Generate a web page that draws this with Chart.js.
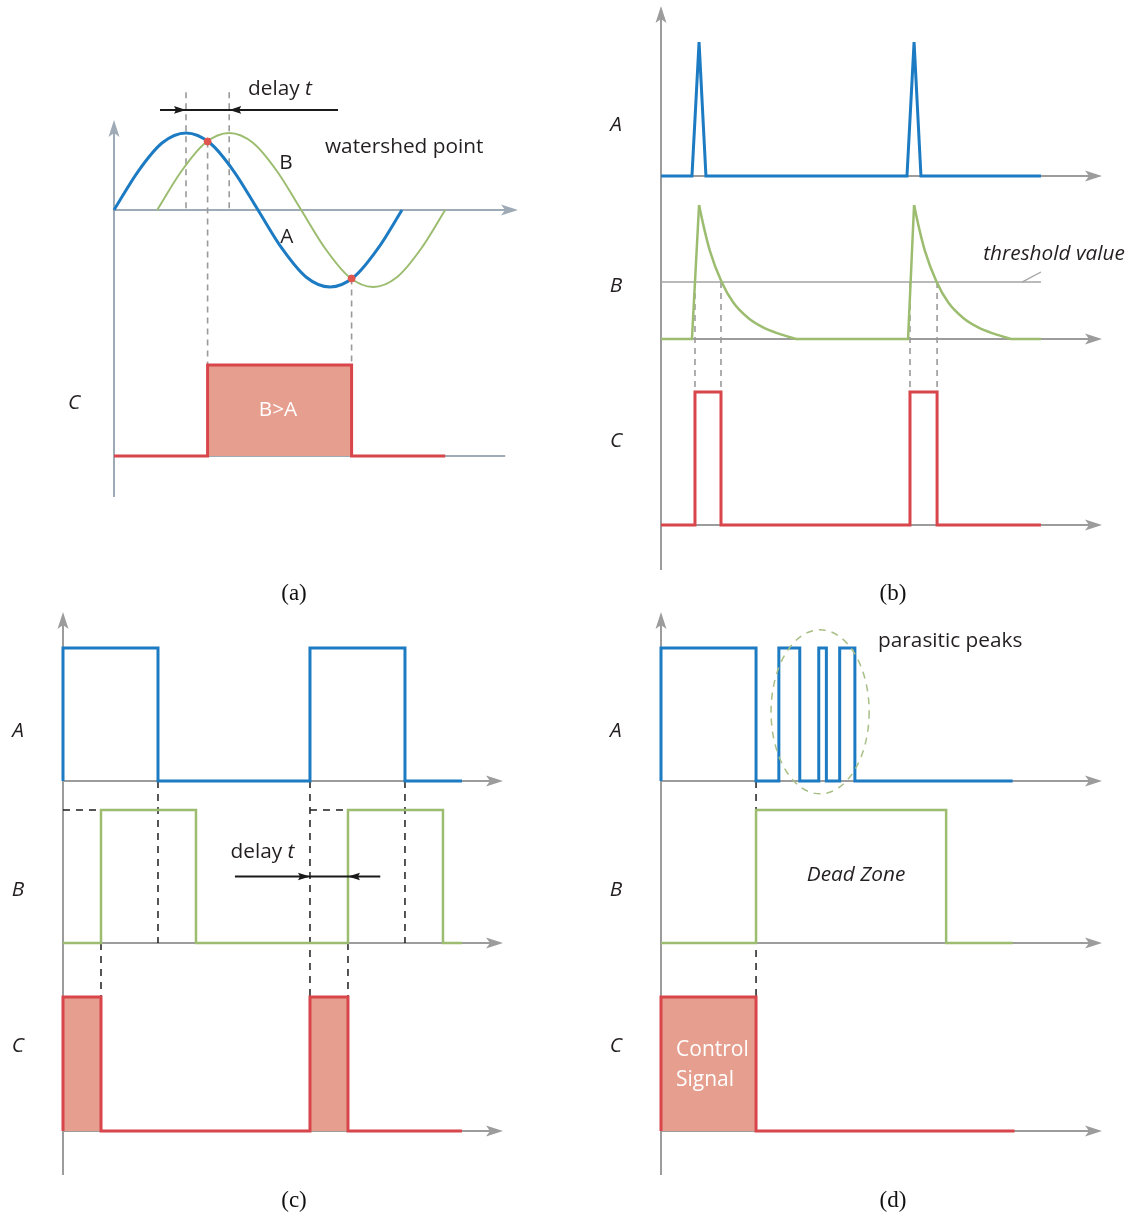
<!DOCTYPE html>
<html><head><meta charset="utf-8">
<script src="https://cdn.jsdelivr.net/npm/chart.js@4/dist/chart.umd.min.js"></script>
<style>
html,body{margin:0;padding:0;background:#fff;}
#wrap{position:relative;width:1130px;height:1219px;overflow:hidden;}
#wrap canvas{position:absolute;left:0;top:0;}
.cap{position:absolute;font-family:"Liberation Serif","Times New Roman",serif;font-size:23px;color:#111;transform:translate(-50%,-50%);white-space:nowrap;}
</style></head><body>
<div id="wrap">
<canvas id="pa" width="1130" height="1219"></canvas>
<canvas id="pb" width="1130" height="1219"></canvas>
<canvas id="pc" width="1130" height="1219"></canvas>
<canvas id="pd" width="1130" height="1219"></canvas>
<div class="cap" style="left:294px;top:593px">(a)</div>
<div class="cap" style="left:893px;top:593px">(b)</div>
<div class="cap" style="left:294px;top:1200px">(c)</div>
<div class="cap" style="left:893px;top:1200px">(d)</div>
</div>
<script>
// ================= DATA =================
// (a) two sine signals (phase in degrees) and comparator output
const aPhase = [0,30,60,90,120,150,180,210,240,270,300,330,360];
const aSignal = [0,0.5,0.87,1,0.87,0.5,0,-0.5,-0.87,-1,-0.87,-0.5,0];
const bPhase = [54,84,114,144,174,204,234,264,294,324,354,384,414];
const bSignal = [0,0.5,0.87,1,0.87,0.5,0,-0.5,-0.87,-1,-0.87,-0.5,0];
const watershedPhase = [117,297];
const watershedValue = [0.89,-0.89];
const cmpPhase = [0,117,117,297,297,414];
const cmpLevel = [0,0,1,1,0,0];
const peakPhase = [90,144];

// (b) spikes, decaying response, threshold gate
const spikeTime = [0,14.4,17.7,20.9,114.4,117.7,120.9,176.7];
const spikeLevel = [0,0,1,0,0,1,0,0];
const riseTime = [0,14.4,17.7,17.7,62.7,114.9,117.7,117.7,162.7,176.7];
const riseLevel = [0,0,1,null,0,0,1,null,0,0];
const decayTime = [17.7,19.7,22.7,28.2,33.7,40.7,47.7,54.7,62.7,62.7,117.7,119.7,122.7,128.2,133.7,140.7,147.7,154.7,162.7];
const decayLevel = [1,0.85,0.66,0.425,0.27,0.155,0.085,0.04,0,null,1,0.85,0.66,0.425,0.27,0.155,0.085,0.04,0];
const thresholdLevel = 0.425;
const gateTime = [0,15.8,15.8,27.9,27.9,115.8,115.8,128.4,128.4,176.7];
const gateLevel = [0,0,1,1,0,0,1,1,0,0];
const gateEdges = [15.8,27.9,115.8,128.4];

// (c) pulse, delayed pulse, output
const cTimeA = [0,0,5,5,13,13,18,18,21];
const cLevelA = [0,1,1,0,0,1,1,0,0];
const cTimeB = [0,2,2,7,7,15,15,20,20,21];
const cLevelB = [0,0,1,1,0,0,1,1,0,0];
const cTimeC = [0,0,2,2,13,13,15,15,21];
const cLevelC = [0,1,1,0,0,1,1,0,0];

// (d) pulse with parasitic peaks, dead zone, control signal
const dTimeA = [0,0,5,5,6.2,6.2,7.3,7.3,8.3,8.3,8.7,8.7,9.4,9.4,10.2,10.2,18.5];
const dLevelA = [0,1,1,0,0,1,1,0,0,1,1,0,0,1,1,0,0];
const dTimeB = [0,5,5,15,15,18.5];
const dLevelB = [0,0,1,1,0,0];
const dTimeC = [0,0,5,5,18.6];
const dLevelC = [0,1,1,0,0];

// ================= STYLE =================
const BLUE='#1c7bc2', GREEN='#9cbd70', RED='#d8454a', FILL='#e69f8e';
const AXIS='#9c9c9c', AXIS_A='#9eaab5', DASH='#9a9a9a', INK='#231f20';
const SANS='"Open Sans","Noto Sans",sans-serif';
const FS=20.8;
const F=(s,it)=>(it?'italic ':'')+s+'px '+SANS;

const pts=(xs,ys)=>xs.map((x,i)=>({x,y:ys[i]}));
function lineDS(xs,ys,axis,color,w,extra){
  return Object.assign({type:'line',data:pts(xs,ys),yAxisID:axis,borderColor:color,borderWidth:w,
    pointRadius:0,tension:0,fill:false,clip:false,spanGaps:false,borderJoinStyle:'miter',borderCapStyle:'butt'},extra||{});
}
const X=(ch,t)=>ch.scales.x.getPixelForValue(t);
const Y=(ch,ax,v)=>ch.scales[ax].getPixelForValue(v);
function seg(ctx,p,color,w,dash){ctx.beginPath();ctx.strokeStyle=color;ctx.lineWidth=w;ctx.setLineDash(dash||[]);
  p.forEach((q,i)=>i?ctx.lineTo(q[0],q[1]):ctx.moveTo(q[0],q[1]));ctx.stroke();ctx.setLineDash([]);}
function head(ctx,x,y,ang,len,half,notch,color){ctx.save();ctx.translate(x,y);ctx.rotate(ang);ctx.beginPath();
  ctx.moveTo(0,0);ctx.lineTo(-len,-half);ctx.lineTo(-len+notch,0);ctx.lineTo(-len,half);ctx.closePath();
  ctx.fillStyle=color;ctx.fill();ctx.restore();}
function txt(ctx,s,x,y,font,color,align){ctx.font=font;ctx.fillStyle=color;ctx.textAlign=align||'center';ctx.textBaseline='middle';ctx.fillText(s,x,y);}
function drawAxes(ch,ctx,color,rows){
  const a=ch.chartArea,x0=X(ch,0);
  seg(ctx,[[x0,a.bottom],[x0,a.top+12]],color,2);
  head(ctx,x0,a.top,-Math.PI/2,17,5.5,4,color);
  rows.forEach(r=>{
    const y=Y(ch,r.id,0), xe=r.end!=null?X(ch,r.end):a.right;
    seg(ctx,[[x0,y],[r.arrow?xe-12:xe,y]],color,2);
    if(r.arrow) head(ctx,xe,y,0,17,5.5,4,color);
  });
}
function delayArrow(ch,ctx,ax,v,t0,t1,tipR,tipL){
  const y=Y(ch,ax,v);
  seg(ctx,[[X(ch,t0),y],[X(ch,t1),y]],'#1a1a1a',2);
  head(ctx,X(ch,tipR),y,0,12,3.8,2,'#1a1a1a');
  head(ctx,X(ch,tipL),y,Math.PI,12,3.8,2,'#1a1a1a');
}
function delayLabel(ctx,cx,cy,size){
  ctx.font=F(size);const w1=ctx.measureText('delay ').width;ctx.font=F(size,true);const w2=ctx.measureText('t').width;
  const x=cx-(w1+w2)/2;
  txt(ctx,'delay ',x,cy,F(size),INK,'left');
  txt(ctx,'t',x+w1,cy,F(size,true),INK,'left');
}
function buildChart(id,o){
  const scales={x:{type:'linear',display:false,min:0,max:o.xMax}};
  o.rows.forEach((r,i)=>{scales[r.id]={type:'linear',display:false,position:'right',stack:'rows',
    stackWeight:r.h,weight:i+1,min:r.min,max:r.max};});
  return new Chart(document.getElementById(id),{
    type:'line',data:{datasets:o.datasets},
    options:{responsive:false,animation:false,devicePixelRatio:1,events:[],
      layout:{padding:o.pad},
      plugins:{legend:{display:false},tooltip:{enabled:false},title:{display:false}},
      scales},
    plugins:[{id:'under'+id,beforeDatasetsDraw(ch){const c=ch.ctx;c.save();o.under(ch,c);c.restore();}},
             {id:'over'+id,afterDatasetsDraw(ch){const c=ch.ctx;c.save();o.over(ch,c);c.restore();}}]
  });
}

// ================= PANEL (a) =================
buildChart('pa',{
  xMax:505, pad:{left:114,right:612,top:120,bottom:722},
  rows:[{id:'sig',h:180,min:-1.169,max:1.169},{id:'cmp',h:197,min:-0.4505,max:1.714}],
  datasets:[
    {type:'scatter',data:pts(watershedPhase,watershedValue),yAxisID:'sig',pointRadius:3.5,
     backgroundColor:'#e0554f',borderColor:'#e0554f',showLine:false,clip:false},
    lineDS(aPhase,aSignal,'sig',BLUE,3,{cubicInterpolationMode:'monotone'}),
    lineDS(bPhase,bSignal,'sig',GREEN,2,{cubicInterpolationMode:'monotone'}),
    lineDS(cmpPhase,cmpLevel,'cmp',RED,3,{fill:'origin',backgroundColor:FILL})
  ],
  under(ch,ctx){
    drawAxes(ch,ctx,AXIS_A,[{id:'sig',arrow:true},{id:'cmp',arrow:false,end:489}]);
    peakPhase.forEach(t=>seg(ctx,[[X(ch,t),Y(ch,'sig',1.53)],[X(ch,t),Y(ch,'sig',0)]],DASH,1.6,[6,5]));
    watershedPhase.forEach((t,i)=>seg(ctx,[[X(ch,t),Y(ch,'sig',watershedValue[i])],[X(ch,t),Y(ch,'cmp',1)]],DASH,1.6,[6,5]));
  },
  over(ch,ctx){
    delayArrow(ch,ctx,'sig',1.30,57.5,280,peakPhase[0],peakPhase[1]);
    delayLabel(ctx,X(ch,207.5),Y(ch,'sig',1.571),FS);
    txt(ctx,'watershed point',X(ch,263.75),Y(ch,'sig',0.818),F(FS),INK,'left');
    txt(ctx,'B',X(ch,215),Y(ch,'sig',0.61),F(FS),INK);
    txt(ctx,'A',X(ch,216),Y(ch,'sig',-0.35),F(FS),INK);
    txt(ctx,'C',X(ch,-50),Y(ch,'cmp',0.58),F(FS,true),INK);
    txt(ctx,'B>A',X(ch,205),Y(ch,'cmp',0.505),F(FS),'#ffffff');
  }
});

// ================= PANEL (b) =================
buildChart('pb',{
  xMax:205.1, pad:{left:661,right:28,top:6,bottom:649},
  rows:[{id:'a',h:184,min:-0.104,max:1.269},{id:'b',h:160,min:-0.082,max:1.112},{id:'c',h:220,min:-0.338,max:1.316}],
  datasets:[
    lineDS(spikeTime,spikeLevel,'a',BLUE,3),
    lineDS(riseTime,riseLevel,'b',GREEN,2.5),
    lineDS(decayTime,decayLevel,'b',GREEN,2.5,{cubicInterpolationMode:'monotone'}),
    lineDS(gateTime,gateLevel,'c',RED,3)
  ],
  under(ch,ctx){
    drawAxes(ch,ctx,AXIS,[{id:'a',arrow:true},{id:'b',arrow:true},{id:'c',arrow:true}]);
    seg(ctx,[[X(ch,0),Y(ch,'b',thresholdLevel)],[X(ch,176.7),Y(ch,'b',thresholdLevel)]],'#a3a3a3',1.6);
    seg(ctx,[[X(ch,167.9),Y(ch,'b',thresholdLevel)],[X(ch,176.7),Y(ch,'b',0.5)]],'#a3a3a3',1.3);
    gateEdges.forEach(t=>seg(ctx,[[X(ch,t),Y(ch,'b',thresholdLevel)],[X(ch,t),Y(ch,'c',1)]],DASH,1.6,[6,5]));
  },
  over(ch,ctx){
    txt(ctx,'threshold value',X(ch,182.8),Y(ch,'b',0.634),F(FS,true),INK);
    txt(ctx,'A',X(ch,-20.9),Y(ch,'a',0.38),F(FS,true),INK);
    txt(ctx,'B',X(ch,-20.9),Y(ch,'b',0.396),F(FS,true),INK);
    txt(ctx,'C',X(ch,-20.9),Y(ch,'c',0.632),F(FS,true),INK);
  }
});

// ================= PANEL (c) =================
const rowsCD=[{id:'a',h:178,min:-0.068,max:1.271},{id:'b',h:170,min:-0.128,max:1.150},{id:'c',h:215,min:-0.328,max:1.276}];
buildChart('pc',{
  xMax:23.16, pad:{left:63,right:627,top:612,bottom:44},
  rows:rowsCD,
  datasets:[
    lineDS(cTimeA,cLevelA,'a',BLUE,3),
    lineDS(cTimeB,cLevelB,'b',GREEN,2.5),
    lineDS(cTimeC,cLevelC,'c',RED,3,{fill:'origin',backgroundColor:FILL})
  ],
  under(ch,ctx){
    drawAxes(ch,ctx,AXIS,[{id:'a',arrow:true},{id:'b',arrow:true},{id:'c',arrow:true}]);
    const K='#1e1e1e',d=[7,6];
    seg(ctx,[[X(ch,0),Y(ch,'b',1)],[X(ch,2),Y(ch,'b',1)]],K,1.5,d);
    seg(ctx,[[X(ch,13),Y(ch,'b',1)],[X(ch,15),Y(ch,'b',1)]],K,1.5,d);
    seg(ctx,[[X(ch,2),Y(ch,'b',0)],[X(ch,2),Y(ch,'c',1)]],K,1.5,d);
    seg(ctx,[[X(ch,5),Y(ch,'a',0)],[X(ch,5),Y(ch,'b',0)]],K,1.5,d);
    seg(ctx,[[X(ch,13),Y(ch,'a',0)],[X(ch,13),Y(ch,'c',1)]],K,1.5,d);
    seg(ctx,[[X(ch,15),Y(ch,'b',0)],[X(ch,15),Y(ch,'c',1)]],K,1.5,d);
    seg(ctx,[[X(ch,18),Y(ch,'a',0)],[X(ch,18),Y(ch,'b',0)]],K,1.5,d);
  },
  over(ch,ctx){
    delayArrow(ch,ctx,'b',0.5,9.05,16.7,13,15);
    delayLabel(ctx,X(ch,10.5),Y(ch,'b',0.68),FS);
    txt(ctx,'A',X(ch,-2.37),Y(ch,'a',0.376),F(FS,true),INK);
    txt(ctx,'B',X(ch,-2.37),Y(ch,'b',0.4),F(FS,true),INK);
    txt(ctx,'C',X(ch,-2.37),Y(ch,'c',0.634),F(FS,true),INK);
  }
});

// ================= PANEL (d) =================
buildChart('pd',{
  xMax:23.2, pad:{left:661,right:28,top:612,bottom:44},
  rows:rowsCD,
  datasets:[
    lineDS(dTimeA,dLevelA,'a',BLUE,3),
    lineDS(dTimeB,dLevelB,'b',GREEN,2.5),
    lineDS(dTimeC,dLevelC,'c',RED,3,{fill:'origin',backgroundColor:FILL})
  ],
  under(ch,ctx){
    drawAxes(ch,ctx,AXIS,[{id:'a',arrow:true},{id:'b',arrow:true},{id:'c',arrow:true}]);
    seg(ctx,[[X(ch,5),Y(ch,'a',0)],[X(ch,5),Y(ch,'c',1)]],'#1e1e1e',1.5,[7,6]);
  },
  over(ch,ctx){
    const cx=X(ch,8.37),cy=Y(ch,'a',0.52),rx=X(ch,8.37+2.58)-cx,ry=Y(ch,'a',0.52-0.617)-cy;
    ctx.beginPath();ctx.setLineDash([7,6]);ctx.strokeStyle='#a8bf86';ctx.lineWidth=1.5;
    ctx.ellipse(cx,cy,rx,ry,0,0,Math.PI*2);ctx.stroke();ctx.setLineDash([]);
    txt(ctx,'parasitic peaks',X(ch,11.42),Y(ch,'a',1.053),F(FS),INK,'left');
    txt(ctx,'Dead Zone',X(ch,10.26),Y(ch,'b',0.511),F(FS,true),INK);
    txt(ctx,'Control',X(ch,0.79),Y(ch,'c',0.604),F(21),'#ffffff','left');
    txt(ctx,'Signal',X(ch,0.79),Y(ch,'c',0.381),F(21),'#ffffff','left');
    txt(ctx,'A',X(ch,-2.37),Y(ch,'a',0.376),F(FS,true),INK);
    txt(ctx,'B',X(ch,-2.37),Y(ch,'b',0.4),F(FS,true),INK);
    txt(ctx,'C',X(ch,-2.37),Y(ch,'c',0.634),F(FS,true),INK);
  }
});
</script>
</body></html>
